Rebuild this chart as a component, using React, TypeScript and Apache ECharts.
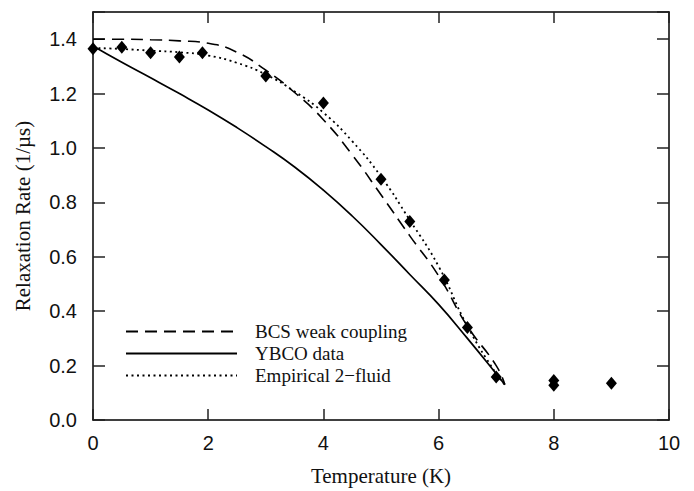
import React, { useEffect, useRef } from "react";
import * as echarts from "echarts";

// Curves: temperature (K) and relaxation rate (1/µs)
const bcsT = [0, 0.5, 1, 1.5, 2, 2.5, 3, 3.5, 4, 4.5, 5, 5.5, 6, 6.5, 7, 7.15];
const bcsRate = [1.4, 1.4, 1.398, 1.394, 1.385, 1.352, 1.286, 1.204, 1.104, 0.975, 0.828, 0.677, 0.53, 0.345, 0.2, 0.13];

const ybcoT = [0, 0.5, 1, 1.5, 2, 2.5, 3, 3.5, 4, 4.5, 5, 5.5, 6, 6.5, 7, 7.15];
const ybcoRate = [1.375, 1.315, 1.258, 1.2, 1.14, 1.075, 1.005, 0.93, 0.845, 0.75, 0.645, 0.535, 0.425, 0.3, 0.17, 0.13];

const fluidT = [0, 0.5, 1, 1.5, 2, 2.5, 3, 3.5, 4, 4.5, 5, 5.5, 6, 6.5, 7, 7.15];
const fluidRate = [1.368, 1.364, 1.358, 1.352, 1.34, 1.313, 1.27, 1.208, 1.13, 1.025, 0.895, 0.735, 0.565, 0.345, 0.17, 0.13];

// Measured points
const dataT = [0, 0.5, 1, 1.5, 1.9, 3, 4, 5, 5.5, 6.1, 6.5, 7, 8, 8, 9];
const dataRate = [1.365, 1.37, 1.35, 1.335, 1.35, 1.265, 1.165, 0.885, 0.73, 0.515, 0.34, 0.158, 0.145, 0.128, 0.135];

const seriesNames = ["BCS weak coupling", "YBCO data", "Empirical 2\u2212fluid"];
const xName = "Temperature (K)";
const yName = "Relaxation Rate (1/\u00b5s)";

const zip = (a: number[], b: number[]) => a.map((v, i) => [v, b[i]]);

export default function App() {
  const ref = useRef<HTMLDivElement>(null);
  useEffect(() => {
    if (!ref.current) return;
    const chart = echarts.init(ref.current, undefined, { renderer: "svg" });
    const sans = "'Liberation Sans', Arial, sans-serif";
    const serif = "'Liberation Serif', 'Times New Roman', serif";
    const axisLine = { show: true, onZero: false, lineStyle: { color: "#000", width: 1.5 } };
    const tickStyle = { color: "#222", width: 1.5 };
    chart.setOption({
      animation: false,
      backgroundColor: "#fff",
      grid: { left: 93, right: 25, top: 12, bottom: 69 },
      legend: {
        data: seriesNames,
        orient: "vertical",
        left: 120,
        top: 317,
        itemWidth: 111,
        itemHeight: 14,
        itemGap: 3,
        itemStyle: { opacity: 0, color: "transparent", borderWidth: 0 },
        textStyle: {
          fontFamily: serif,
          fontSize: 19,
          color: "#111",
          padding: [0, 0, 0, 13],
        },
      },
      xAxis: [
        {
          type: "value",
          min: 0,
          max: 10,
          interval: 2,
          position: "bottom",
          name: xName,
          nameLocation: "middle",
          nameGap: 45,
          nameTextStyle: { fontFamily: serif, fontSize: 21, color: "#111" },
          axisLine,
          axisTick: { show: true, inside: true, length: 11, lineStyle: tickStyle },
          axisLabel: { fontFamily: sans, fontSize: 20, color: "#111", margin: 13 },
          splitLine: { show: false },
        },
        {
          type: "value",
          min: 0,
          max: 10,
          interval: 2,
          position: "top",
          axisLine,
          axisTick: { show: true, inside: true, length: 11, lineStyle: tickStyle },
          axisLabel: { show: false },
          splitLine: { show: false },
        },
      ],
      yAxis: [
        {
          type: "value",
          min: 0,
          max: 1.5,
          interval: 0.2,
          position: "left",
          name: yName,
          nameLocation: "middle",
          nameGap: 60,
          nameTextStyle: { fontFamily: serif, fontSize: 21, color: "#111" },
          axisLine,
          axisTick: { show: true, inside: true, length: 12, lineStyle: tickStyle },
          axisLabel: {
            fontFamily: sans,
            fontSize: 20,
            color: "#111",
            margin: 16,
            formatter: (v: number) => (v > 1.45 ? "" : v.toFixed(1)),
          },
          splitLine: { show: false },
        },
        {
          type: "value",
          min: 0,
          max: 1.5,
          interval: 0.2,
          position: "right",
          axisLine,
          axisTick: { show: true, inside: true, length: 12, lineStyle: tickStyle },
          axisLabel: { show: false },
          splitLine: { show: false },
        },
      ],
      series: [
        {
          name: seriesNames[0],
          type: "line",
          data: zip(bcsT, bcsRate),
          smooth: true,
          symbol: "none",
          lineStyle: { color: "#000", width: 1.6, type: [12, 7] },
          itemStyle: { color: "#000" },
        },
        {
          name: seriesNames[1],
          type: "line",
          data: zip(ybcoT, ybcoRate),
          smooth: true,
          symbol: "none",
          lineStyle: { color: "#000", width: 1.7 },
          itemStyle: { color: "#000" },
        },
        {
          name: seriesNames[2],
          type: "line",
          data: zip(fluidT, fluidRate),
          smooth: true,
          symbol: "none",
          lineStyle: { color: "#000", width: 1.8, type: [2, 3.5] },
          itemStyle: { color: "#000" },
        },
        {
          name: "data",
          type: "scatter",
          data: zip(dataT, dataRate),
          symbol: "diamond",
          symbolSize: [11, 13],
          itemStyle: { color: "#000", opacity: 1 },
          z: 5,
        },
      ],
    });
    return () => chart.dispose();
  }, []);
  return <div ref={ref} style={{ width: 694, height: 491, position: "absolute", left: 0, top: 0 }} />;
}
